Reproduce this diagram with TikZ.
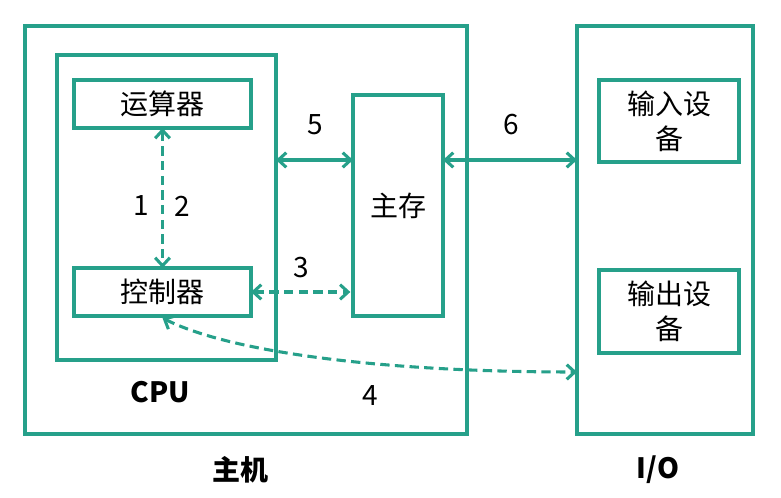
\documentclass[tikz,border=0pt]{standalone}
\usepackage{fontspec}
\setmainfont{Noto Sans CJK SC}
\usetikzlibrary{arrows.meta}
\definecolor{tealc}{RGB}{38,160,138}
\begin{document}
\begin{tikzpicture}[x=0.75pt,y=-0.75pt,
  frame/.style={draw=tealc, line width=2.3pt, inner sep=0pt, outer sep=0pt, rectangle},
  lbl/.style={font=\fontsize{21}{25}\selectfont, inner sep=0pt},
  blbl/.style={font=\fontsize{21}{25}\selectfont\bfseries, inner sep=0pt},
  solidarrow/.style={draw=tealc, line width=2.3pt, {Straight Barb[length=6pt,width=11pt]}-{Straight Barb[length=6pt,width=11pt]}},
  dasharrow/.style={draw=tealc, line width=2.3pt, dash pattern=on 7pt off 4pt, {Straight Barb[length=6pt,width=11pt]}-{Straight Barb[length=6pt,width=11pt]}}
]
\path[use as bounding box] (0,0) rectangle (781,498);
\node[frame, minimum width=331.5pt, minimum height=306pt] (host) at (246,230) {};
\node[frame, minimum width=164.25pt, minimum height=228.75pt] (cpu) at (166.5,207.5) {};
\node[frame, minimum width=132.75pt, minimum height=36pt, lbl] (alu) at (162.5,104) {运算器};
\node[frame, minimum width=132.75pt, minimum height=36pt, lbl] (ctl) at (162.5,292) {控制器};
\node[frame, minimum width=67.5pt, minimum height=165.75pt, lbl] (mem) at (398,205.5) {主存};
\node[frame, minimum width=132pt, minimum height=306pt] (io) at (665,230) {};
\node[frame, minimum width=105pt, minimum height=61.5pt, lbl, align=center, font=\fontsize{21}{26}\selectfont] (in) at (669,121) {输入设\\备};
\node[frame, minimum width=105pt, minimum height=62.25pt, lbl, align=center, font=\fontsize{21}{26}\selectfont] (out) at (669,311.5) {输出设\\备};

\node[lbl] (l1) at (141,206) {1};
\node[lbl] (l2) at (182,206) {2};
\node[lbl] (l3) at (301,268) {3};
\node[lbl] (l4) at (370,396) {4};
\node[lbl] (l5) at (315,125) {5};
\node[lbl] (l6) at (511,125) {6};
\node[blbl] (cpul) at (160,392) {CPU};
\node[blbl] (hostl) at (240,470) {主机};
\node[blbl] (iol) at (658,470) {I/O};

\draw[dasharrow] (alu.south) -- (ctl.north);
\draw[solidarrow] (cpu.east |- 0,160) -- (mem.west |- 0,160);
\draw[solidarrow] (mem.east |- 0,160) -- (io.west |- 0,160);
\draw[dasharrow, shorten >=2pt] (ctl.east) -- (mem.west |- ctl.east);
\coordinate (c4) at (io.west |- 0,372);
\draw[dasharrow] (ctl.south) ++(0,2) .. controls (230,352) and (380,372) .. (c4);
\end{tikzpicture}
\end{document}
